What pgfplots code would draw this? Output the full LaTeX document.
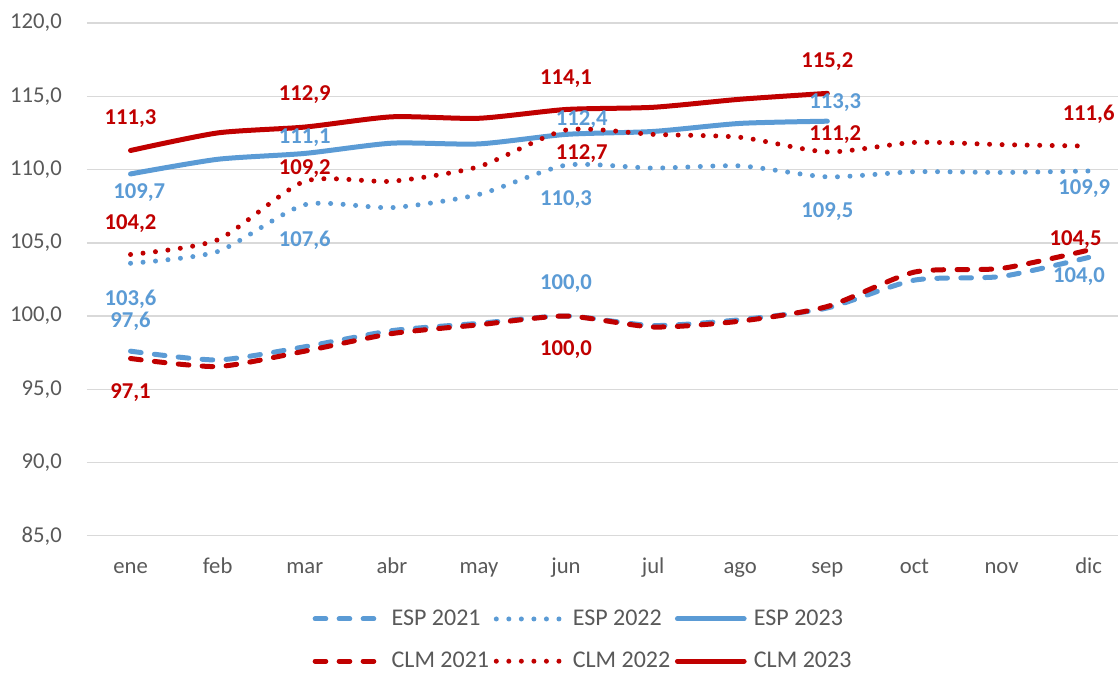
\documentclass[border=0pt]{standalone}
\usepackage{fontspec}
\setmainfont{Carlito}
\usepackage{pgfplots}
\pgfplotsset{compat=1.18}
\definecolor{espblue}{HTML}{5B9BD5}
\definecolor{clmred}{HTML}{C00000}
\definecolor{txtgray}{HTML}{595959}
\definecolor{gridgray}{HTML}{D9D9D9}
\newcommand{\lab}[4]{\node[font=\fontsize{17}{20}\selectfont\bfseries, text=#3, inner sep=0pt] at (axis cs:#1,#2) {#4};}
\begin{document}
\begin{tikzpicture}
\useasboundingbox (-65.25pt,-103pt) rectangle (773.25pt,401.8pt);
\clip (-65.25pt,-103pt) rectangle (773.25pt,401.8pt);
\begin{axis}[
    at={(0pt,0pt)}, anchor=south west,
    scale only axis, width=773.25pt, height=384.5pt,
    xmin=-0.5, xmax=11.337, ymin=85, ymax=120,
    axis line style={draw=none},
    xtick={0,...,11},
    xticklabels={ene,feb,mar,abr,may,jun,jul,ago,sep,oct,nov,dic},
    ytick={85,90,...,120},
    ymajorgrids, grid style={gridgray, line width=1.1pt},
    major tick length=0pt, tick style={draw=none},
    tick label style={font=\fontsize{17}{20}\selectfont, text=txtgray},
    xticklabel style={anchor=base, yshift=-28pt, inner sep=0pt},
    yticklabel style={anchor=east, xshift=-18.75pt, inner sep=0pt,
        /pgf/number format/.cd, use comma, fixed, fixed zerofill, precision=1, 1000 sep={}},
    /pgf/number format/assume math mode=true,
    clip=false,
    legend columns=3,
    legend cell align=left,
    legend style={draw=none, fill=none, at={(0.2186,-0.1421)}, anchor=north west,
        font=\fontsize{18}{21}\selectfont, text=txtgray, inner sep=0pt, row sep=16.5pt,
        nodes={inner ysep=1pt},
        /tikz/every odd column/.append style={column sep=3.5pt},
        /tikz/every even column/.append style={column sep=1.5pt}},
    legend image code/.code={\draw[#1] (0pt,0pt) -- (50pt,0pt);},
    every axis plot/.append style={line width=3.75pt, smooth, tension=0.4, line cap=round},
    dashsty/.style={dash pattern=on 8pt off 10pt},
    dotsty/.style={dash pattern=on 0pt off 9.4pt},
]

% ESP 2021
\addplot[espblue, dashsty] coordinates {(0,97.6) (1,97.0) (2,97.9) (3,99.0) (4,99.5) (5,100.0) (6,99.35) (7,99.75) (8,100.55) (9,102.45) (10,102.7) (11,104.0)};
% ESP 2022
\addplot[espblue, dotsty] coordinates {(0,103.6) (1,104.4) (2,107.6) (3,107.4) (4,108.3) (5,110.3) (6,110.1) (7,110.25) (8,109.5) (9,109.85) (10,109.8) (11,109.9)};
% ESP 2023
\addplot[espblue] coordinates {(0,109.7) (1,110.7) (2,111.1) (3,111.8) (4,111.75) (5,112.4) (6,112.6) (7,113.15) (8,113.3)};
% CLM 2021
\addplot[clmred, dashsty] coordinates {(0,97.1) (1,96.55) (2,97.6) (3,98.8) (4,99.4) (5,100.0) (6,99.25) (7,99.65) (8,100.65) (9,103.0) (10,103.25) (11,104.5)};
% CLM 2022
\addplot[clmred, dotsty] coordinates {(0,104.2) (1,105.2) (2,109.2) (3,109.2) (4,110.2) (5,112.7) (6,112.4) (7,112.2) (8,111.2) (9,111.85) (10,111.7) (11,111.6)};
% CLM 2023
\addplot[clmred] coordinates {(0,111.3) (1,112.5) (2,112.9) (3,113.6) (4,113.5) (5,114.1) (6,114.25) (7,114.8) (8,115.2)};

\legend{ESP 2021, ESP 2022, ESP 2023, CLM 2021, CLM 2022, CLM 2023}

% data labels
\lab{0}{113.5}{clmred}{111,3}
\lab{0.1}{108.42}{espblue}{109,7}
\lab{0}{106.34}{clmred}{104,2}
\lab{0}{101.17}{espblue}{103,6}
\lab{0}{99.67}{espblue}{97,6}
\lab{0}{94.78}{clmred}{97,1}
\lab{2}{115.09}{clmred}{112,9}
\lab{2}{112.2}{espblue}{111,1}
\lab{2}{110.09}{clmred}{109,2}
\lab{2}{105.2}{espblue}{107,6}
\lab{5}{116.23}{clmred}{114,1}
\lab{5.18}{113.38}{espblue}{112,4}
\lab{5.18}{111.06}{clmred}{112,7}
\lab{5}{107.93}{espblue}{110,3}
\lab{5}{102.24}{espblue}{100,0}
\lab{5}{97.69}{clmred}{100,0}
\lab{8}{117.36}{clmred}{115,2}
\lab{8.09}{114.56}{espblue}{113,3}
\lab{8.09}{112.36}{clmred}{111,2}
\lab{8}{107.1}{espblue}{109,5}
\lab{11}{113.77}{clmred}{111,6}
\lab{10.95}{108.72}{espblue}{109,9}
\lab{10.85}{105.2}{clmred}{104,5}
\lab{10.89}{102.7}{espblue}{104,0}
\end{axis}
\end{tikzpicture}
\end{document}
